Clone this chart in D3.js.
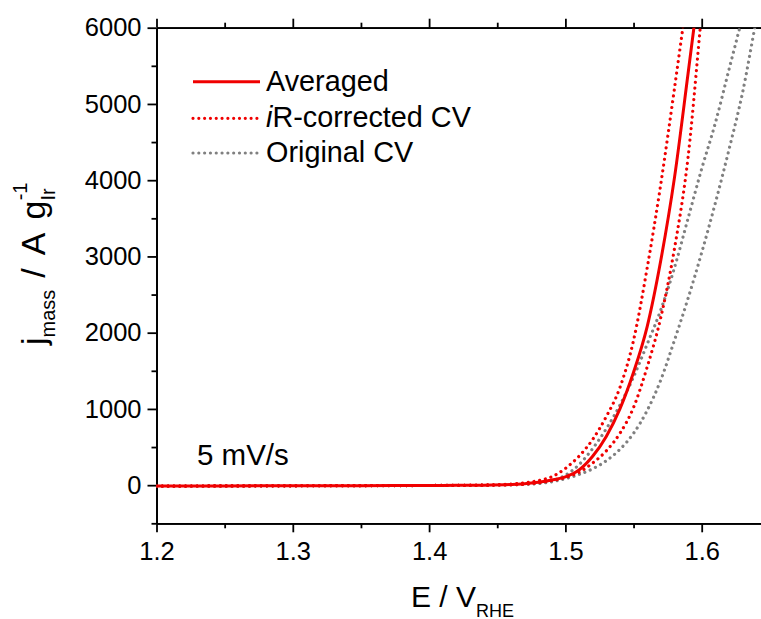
<!DOCTYPE html>
<html>
<head>
<meta charset="utf-8">
<script src="https://cdn.jsdelivr.net/npm/d3@7"></script>
<style>
  html, body { margin: 0; padding: 0; background: #fff; }
  svg { display: block; }
  text { font-family: "Liberation Sans", Arial, Helvetica, sans-serif; fill: #000; }
</style>
</head>
<body>
<svg id="chart" width="761" height="619"></svg>
<script>
// ---- data ----
const potentials = [1.20,1.25,1.30,1.35,1.40,1.42,1.44,1.46,1.47,1.48,1.49,1.50,1.51,1.52,1.53,1.54,1.55,1.56,1.57,1.58,1.59,1.60,1.61,1.62,1.63,1.64,1.65];
const averaged   = [-12,-10,-8,-6,-4,-2,0,8,18,38,68,110,200,380,640,1000,1480,2080,2950,4030,5400,6800,8200,null,null,null,null];
const irLow      = [-12,-10,-8,-6,-4,-2,2,15,30,60,110,220,380,600,900,1280,1900,2850,3950,5200,6500,7800,null,null,null,null,null];
const irHigh     = [-12,-10,-8,-6,-4,-2,0,5,12,30,60,100,170,290,450,680,1020,1550,2200,3100,4300,6200,8000,null,null,null,null];
const origLow    = [-12,-10,-8,-6,-4,-2,0,10,16,25,55,130,270,480,740,1050,1420,1850,2300,2850,3500,4150,4750,5450,6150,6900,7600];
const origHigh   = [-12,-10,-8,-6,-4,-2,0,5,10,20,45,85,140,215,320,470,680,980,1380,1900,2450,3050,3700,4400,5150,6100,7000];

const xTicks = [1.2,1.3,1.4,1.5,1.6];
const yTicks = [0,1000,2000,3000,4000,5000,6000];
const legendLabels = ["Averaged","R-corrected CV","Original CV"];

// ---- layout ----
const svg = d3.select("#chart");
const PL = 156.5, PT = 27.7, PB = 523.3;
const pxPerV = 1363;
const xMax = 1.648;
const x = d3.scaleLinear().domain([1.2, xMax]).range([PL, PL + (xMax - 1.2) * pxPerV]);
const y = d3.scaleLinear().domain([-500, 6000]).range([PB, PT]);
const PR = x(xMax);

const RED = "#f00000", GRAY = "#808080";
const TICKFONT = 25.5;

svg.append("defs").append("clipPath").attr("id","clip")
  .append("rect").attr("x", PL).attr("y", PT).attr("width", PR-PL).attr("height", PB-PT);

const majorX = xTicks, minorX = d3.range(1.25, xMax, 0.1);
const majorY = yTicks, minorY = d3.range(-500, 6000, 1000);

function axisGroup(axisGen, tr) {
  return svg.append("g").attr("transform", tr).call(axisGen)
    .call(g => g.select(".domain").attr("stroke","#000").attr("stroke-width",1.8))
    .call(g => g.selectAll(".tick line").attr("stroke","#000").attr("stroke-width",1.8));
}
const fmtX = d3.format(".1f");

const bAx = axisGroup(d3.axisBottom(x).tickValues(majorX).tickSize(9).tickSizeOuter(0).tickPadding(9.5).tickFormat(fmtX), `translate(0,${PB})`);
bAx.selectAll(".tick text").attr("font-size", TICKFONT).attr("font-family", '"Liberation Sans", Arial, sans-serif').attr("fill","#000");
axisGroup(d3.axisBottom(x).tickValues(minorX).tickSize(5).tickSizeOuter(0).tickFormat(""), `translate(0,${PB})`);
axisGroup(d3.axisBottom(x).tickValues(majorX).tickSize(-9).tickSizeOuter(0).tickFormat(""), `translate(0,${PT})`);
axisGroup(d3.axisBottom(x).tickValues(minorX).tickSize(-5).tickSizeOuter(0).tickFormat(""), `translate(0,${PT})`);
const lAx = axisGroup(d3.axisLeft(y).tickValues(majorY).tickSize(9).tickSizeOuter(0).tickPadding(6).tickFormat(d3.format("d")), `translate(${PL},0)`);
lAx.selectAll(".tick text").attr("font-size", TICKFONT).attr("font-family", '"Liberation Sans", Arial, sans-serif').attr("fill","#000");
axisGroup(d3.axisLeft(y).tickValues(minorY).tickSize(5).tickSizeOuter(0).tickFormat(""), `translate(${PL},0)`);
axisGroup(d3.axisLeft(y).tickValues(majorY).tickSize(-9).tickSizeOuter(0).tickFormat(""), `translate(${PR},0)`);
axisGroup(d3.axisLeft(y).tickValues(minorY).tickSize(-5).tickSizeOuter(0).tickFormat(""), `translate(${PR},0)`);

const plot = svg.append("g").attr("clip-path","url(#clip)");
function lineFor(vals) {
  const pts = potentials.map((e,i)=>[e, vals[i]]).filter(p => p[1] !== null);
  return d3.line().x(d=>x(d[0])).y(d=>y(d[1])).curve(d3.curveMonotoneX)(pts);
}
const dotted = {"stroke-dasharray":"0.01 5.8","stroke-linecap":"round","stroke-width":3.2};
function addPath(vals, color, isDotted) {
  const p = plot.append("path").attr("d", lineFor(vals)).attr("fill","none").attr("stroke", color);
  if (isDotted) Object.entries(dotted).forEach(([k,v]) => p.attr(k,v));
  else p.attr("stroke-width", 3);
}
addPath(origHigh, GRAY, true);
addPath(origLow, GRAY, true);
addPath(irHigh, RED, true);
addPath(irLow, RED, true);
addPath(averaged, RED, false);

const legY = [81.7, 118.3, 153];
const legend = svg.append("g");
[[RED,false],[RED,true],[GRAY,true]].forEach(([c,d],i) => {
  const l = legend.append("line").attr("x1",193).attr("x2",260).attr("y1",legY[i]).attr("y2",legY[i]).attr("stroke",c);
  if (d) Object.entries(dotted).forEach(([k,v]) => l.attr(k,v)); else l.attr("stroke-width",3);
});
const LEGFONT = 28.8;
legend.append("text").attr("x",266).attr("y",91).attr("font-size",LEGFONT).text(legendLabels[0]);
const t2 = legend.append("text").attr("x",266).attr("y",127).attr("font-size",LEGFONT);
t2.append("tspan").attr("font-style","italic").text("i");
t2.append("tspan").text(legendLabels[1]);
legend.append("text").attr("x",266).attr("y",162).attr("font-size",LEGFONT).text(legendLabels[2]);

svg.append("text").attr("x",197).attr("y",465).attr("font-size",29.5).text("5 mV/s");

const xt = svg.append("text").attr("x",411).attr("y",606.5).attr("font-size",30);
xt.append("tspan").text("E / V");
xt.append("tspan").attr("font-size",18).attr("dy",10).text("RHE");

const yt = svg.append("text").attr("transform","translate(45,345) rotate(-90)").attr("font-size",34);
yt.append("tspan").text("j");
yt.append("tspan").attr("font-size",20).attr("dy",10).text("mass");
yt.append("tspan").attr("dy",-10).attr("dx",12).text("/");
yt.append("tspan").attr("dx",13).text("A");
yt.append("tspan").attr("dx",13).text("g");
yt.append("tspan").attr("font-size",20).attr("dy",10).text("Ir");
yt.append("tspan").attr("font-size",20).attr("dx",-12).attr("dy",-28).text("-1");
</script>
</body>
</html>
